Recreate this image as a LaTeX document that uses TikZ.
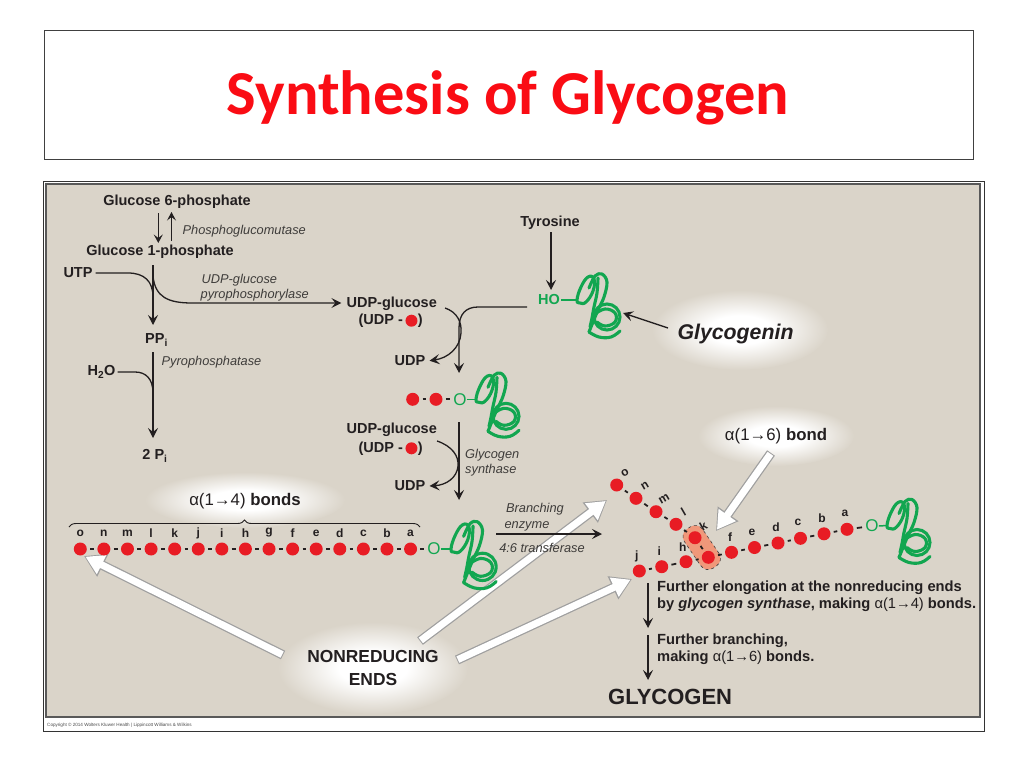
\documentclass[tikz,border=0pt]{standalone}
\usepackage{fontspec}
\setmainfont{Liberation Sans}
\newfontfamily\titlefont{Carlito}
\usetikzlibrary{arrows.meta,decorations.pathreplacing,shapes.geometric}
\definecolor{bgc}{RGB}{218,212,201}
\definecolor{glred}{RGB}{232,28,36}
\definecolor{glgreen}{RGB}{18,166,80}
\definecolor{txt}{RGB}{35,31,32}
\definecolor{itx}{RGB}{62,60,58}
\definecolor{titred}{RGB}{250,12,20}
\definecolor{hl}{RGB}{240,152,122}
\pgfdeclareradialshading{glow}{\pgfpoint{0bp}{0bp}}{color(0bp)=(white); color(9bp)=(white); color(25bp)=(bgc); color(50bp)=(bgc)}
\tikzset{protein/.pic={
  \begin{scope}[draw=glgreen, line width=3.1pt, line cap=round, line join=round]
   \draw plot[smooth cycle, tension=0.75] coordinates {(0,0) (4,-13) (11,-23) (17,-21) (16,-9) (9,2) (3,3)};
   \draw plot[smooth, tension=0.6] coordinates {(12,-12) (18,-24) (25,-26) (30,-18) (27,-3) (21,10) (16,22) (12,32)};
   \draw plot[smooth, tension=0.6] coordinates {(21,-22) (20,-7) (17,7) (15,18) (13,27)};
   \draw (30,17) circle [radius=13pt];
   \draw plot[smooth, tension=0.7] coordinates {(18,14) (28,9) (38,13) (38,22) (28,26) (20,22)};
   \draw plot[smooth, tension=0.7] coordinates {(12,32) (22,37) (34,37) (43,31)};
  \end{scope}}}
\begin{document}
\begin{tikzpicture}[x=1pt,y=-1pt,
  lbl/.style={font=\bfseries\fontsize{14.5}{16}\selectfont, text=txt, inner sep=0pt},
  blbl/.style={font=\bfseries\fontsize{14.7}{16}\selectfont, text=txt, inner sep=0pt, anchor=west},
  ilbl/.style={font=\itshape\fontsize{12.8}{14}\selectfont, text=itx, inner sep=0pt, anchor=west},
  glbl/.style={font=\bfseries\fontsize{14.5}{16}\selectfont, text=glgreen, inner sep=0pt},
  gO/.style={font=\fontsize{17}{18}\selectfont, text=glgreen, inner sep=0pt},
  chl/.style={font=\bfseries\fontsize{12}{13}\selectfont, text=txt, inner sep=0pt},
  dot/.style={circle, fill=glred, minimum size=13pt, inner sep=0pt},
  sdot/.style={circle, fill=glred, minimum size=12pt, inner sep=0pt},
  bond/.style={draw=txt, line width=1.8pt, shorten <=3.2pt, shorten >=3.2pt},
  gbond/.style={draw=glgreen, line width=1.5pt},
  arr/.style={draw=txt, line width=1.3pt, -{Stealth[length=10pt,width=10pt,inset=4pt]}},
  tarr/.style={draw=txt, line width=1.1pt, -{Stealth[length=8.5pt,width=9pt,inset=3.5pt]}},
  pl/.style={draw=txt, line width=1.3pt},
  waout/.style={line width=9.5pt, draw=gray!75, -{Triangle[length=21pt,width=24pt]}},
  wain/.style={line width=7pt, draw=white, -{Triangle[length=18pt,width=20pt]}, shorten >=1.6pt, shorten <=1pt},
]
\useasboundingbox (0,0) rectangle (1024,768);
\fill[white] (0,0) rectangle (1024,768);
% title
\node[draw=black!75, line width=0.8pt, minimum width=929pt, minimum height=129pt, inner sep=0pt] (tbox) at (508.5,94.5) {};
\node[font=\titlefont\bfseries\fontsize{62.5}{66}\selectfont, text=titred, inner sep=0pt] (title) at (508,98) {Synthesis of Glycogen};
% panel
\node[draw=black!80, line width=0.8pt, minimum width=941pt, minimum height=550pt, inner sep=0pt] (frame) at (513.5,456) {};
\node[fill=bgc, draw=gray!70!black, line width=1.2pt, minimum width=934pt, minimum height=533pt, inner sep=0pt] (panel) at (513,450.5) {};
\node[font=\fontsize{4.6}{5}\selectfont, text=gray!60!black, anchor=west, inner sep=0pt] (copy) at (47,725.5) {Copyright © 2014 Wolters Kluwer Health | Lippincott Williams \& Wilkins};
% glows
\shade[shading=glow] (740,330) ellipse [x radius=88pt, y radius=40pt];
\shade[shading=glow] (245,500) ellipse [x radius=100pt, y radius=28pt];
\shade[shading=glow] (776,436) ellipse [x radius=78pt, y radius=30pt];
\shade[shading=glow] (373,668) ellipse [x radius=95pt, y radius=46pt];
% white arrows
\coordinate (w1s) at (283,655); \coordinate (w1e) at (84,556);
\coordinate (w2s) at (420,641); \coordinate (w2e) at (607,500);
\coordinate (w3s) at (457,660); \coordinate (w3e) at (632,579);
\coordinate (w4s) at (771,453); \coordinate (w4e) at (716,531);
\foreach \s/\e in {w1s/w1e,w2s/w2e,w3s/w3e,w4s/w4e}{
  \draw[waout] (\s) -- (\e);
  \draw[wain] (\s) -- (\e);
}
% ---------- left pathway
\node[lbl] (g6p) at (177,201.5) {Glucose 6-phosphate};
\node[lbl] (g1p) at (160,251.5) {Glucose 1-phosphate};
\coordinate (pa) at (158.3,213); \coordinate (pb) at (158.3,243);
\coordinate (pc) at (171.5,241); \coordinate (pd) at (171.5,212);
\draw[tarr] (pa) -- (pb);
\draw[tarr] (pc) -- (pd);
\node[ilbl] (pgm) at (182.5,231.5) {Phosphoglucomutase};
\node[lbl] (utp) at (78,273) {UTP};
\node[lbl] (ppi) at (156.5,340) {PP\textsubscript{i}};
\coordinate (v1a) at (153,265); \coordinate (v1b) at (153,325);
\draw[arr] (v1a) -- (v1b);
\draw[pl] ([xshift=3pt]utp.east) -- (128,273) .. controls (144,273) and (153,281) .. (153,297);
\node[lbl] (udpg1) at (391.7,303.3) {UDP-glucose};
\node[lbl] (ud1) at (390.7,320.7) {(UDP -\hspace{15pt})};
\node[sdot] (ud1d) at ([xshift=-11.5pt]ud1.east) {};
\coordinate (br1) at (153,276);
\draw[arr] (br1) .. controls (155,297) and (168,303) .. (192,303) -- ([xshift=-5pt]udpg1.west |- 0,303);
\node[ilbl] (upp1) at (201.5,280) {UDP-glucose};
\node[ilbl] (upp2) at (200.5,295) {pyrophosphorylase};
\node[lbl] (h2o) at (101.5,372) {H\textsubscript{2}O};
\coordinate (v2a) at (153,352); \coordinate (v2b) at (153,438);
\draw[arr] (v2a) -- (v2b);
\draw[pl] ([xshift=2pt]h2o.east) -- (135,372) .. controls (146,372) and (153,379) .. (153,393);
\node[ilbl] (ppase) at (161.5,362.5) {Pyrophosphatase};
\node[lbl] (pi2) at (155,456) {2 P\textsubscript{i}};
% ---------- middle
\node[lbl] (tyr) at (550,222.7) {Tyrosine};
\coordinate (ta) at (551,232); \coordinate (tb) at (551,290);
\draw[arr] (ta) -- (tb);
\node[glbl] (ho) at (549,300) {HO};
\coordinate (hP) at (577,300);
\draw[gbond] ([xshift=1pt]ho.east) -- (hP);
\pic at (hP) {protein};
\node[font=\bfseries\itshape\fontsize{21.3}{24}\selectfont, text=txt, inner sep=0pt] (gnin) at (735.5,334) {Glycogenin};
\coordinate (ga) at (668,328); \coordinate (gb) at (623,313);
\draw[arr] (ga) -- (gb);
\coordinate (hl1) at (527,307);
\draw[arr] (hl1) -- (478,307) .. controls (466,307) and (459,314) .. (459,328) -- (459,373);
\node[lbl] (udp1) at (410,360.7) {UDP};
\coordinate (uc1) at (445,308);
\draw[arr] (uc1) .. controls (457,312) and (462,322) .. (461,333) .. controls (460,348) and (448,358) .. ([xshift=4pt]udp1.east);
% row 399
\node[dot] (q1) at (412.7,399.3) {};
\node[dot] (q2) at (436,399.3) {};
\node[gO] (qO) at (460,399.3) {O};
\draw[bond] (q1) -- (q2);
\draw[bond] (q2) -- (qO);
\coordinate (qP) at (476,399.3);
\draw[gbond] (qO.east) -- (qP);
\pic at (qP) {protein};
\node[lbl] (udpg2) at (391.7,429.3) {UDP-glucose};
\node[lbl] (ud2) at (390.7,448.3) {(UDP -\hspace{15pt})};
\node[sdot] (ud2d) at ([xshift=-11.5pt]ud2.east) {};
\coordinate (gsa) at (459,422); \coordinate (gsb) at (459,500);
\draw[arr] (gsa) -- (gsb);
\node[lbl] (udp2) at (410,486) {UDP};
\coordinate (uc2) at (437,441);
\draw[arr] (uc2) .. controls (452,446) and (459,456) .. (458,466) .. controls (457,478) and (446,485) .. ([xshift=4pt]udp2.east);
\node[ilbl] (gs1) at (465,455) {Glycogen};
\node[ilbl] (gs2) at (465,470.5) {synthase};
% ---------- linear chain
\node[font=\bfseries\fontsize{16.8}{18}\selectfont, text=txt, inner sep=0pt] (b14) at (245,501) {{\mdseries α(1→4)} bonds};
\coordinate (bra) at (69,527); \coordinate (brb) at (420,527);
\draw[txt, line width=0.9pt, decorate, decoration={brace, amplitude=7pt}] (bra) -- (brb);
\foreach \L [count=\i] in {o,n,m,l,k,j,i,h,g,f,e,d,c,b,a} {
  \node[dot] (c\i) at ({80.3+23.59*(\i-1)},549) {};
  \node[chl] (cl\i) at ({80.3+23.59*(\i-1)},533) {\L};
}
\foreach \i [evaluate=\i as \j using {int(\i+1)}] in {1,...,14} { \draw[bond] (c\i) -- (c\j); }
\node[gO] (cO) at (434,549) {O};
\draw[bond] (c15) -- (cO);
\coordinate (cP) at (451,549);
\draw[gbond] (cO.east) -- (cP);
\pic[scale=1.05] at (cP) {protein};
% branching enzyme
\coordinate (bea) at (496,534); \coordinate (beb) at (602,534);
\draw[arr] (bea) -- (beb);
\node[ilbl, anchor=center] (be1) at (535,509) {Branching};
\node[ilbl, anchor=center] (be2) at (527,526) {enzyme};
\node[ilbl, anchor=center] (be3) at (542,548) {4:6 transferase};
% ---------- branched structure
\node[fill=hl, draw=txt!85, dashed, line width=0.6pt, rounded corners=9pt, minimum width=47pt, minimum height=22pt, rotate=-55.8] (hlb) at (701.7,547.5) {};
\foreach \n/\x/\y in {rj/639.3/571, ri/661.7/566.7, rh/686/561.7, rB/708.3/557.3, rf/731.5/552.3, re/754.5/547.5, rd/778/543, rc/800.5/538.3, rb/824/533.8, ra/847/529.3, ro/616.7/485, rn/636/498.3, rm/656/511.7, rl/676/524.3, rk/695/537.7}
  { \node[dot] (\n) at (\x,\y) {}; }
\foreach \a/\b in {rj/ri, ri/rh, rh/rB, rB/rf, rf/re, re/rd, rd/rc, rc/rb, rb/ra, ro/rn, rn/rm, rm/rl, rl/rk, rk/rB}
  { \draw[bond] (\a) -- (\b); }
\foreach \n/\x/\y/\L in {rjl/636.7/556.5/j, ril/659.3/550.7/i, rhl/682.7/547/h, rfl/730/537/f, rel/752/532/e, rdl/776/527/d, rcl/798/522.5/c, rbl/822/518/b, ral/845/513.5/a}
  { \node[chl] (\n) at (\x,\y) {\L}; }
\foreach \n/\x/\y/\L in {rol/625/472.7/o, rnl/645/486/n, rml/664/499.3/m, rll/683.3/511.7/l, rkl/703.3/526/k}
  { \node[chl, rotate=30] (\n) at (\x,\y) {\L}; }
\node[gO] (rO) at (872,526) {O};
\draw[bond] (ra) -- (rO);
\coordinate (rP) at (887,525.5);
\draw[gbond] (rO.east) -- (rP);
\pic at (rP) {protein};
\node[font=\bfseries\fontsize{16.8}{18}\selectfont, text=txt, inner sep=0pt] (b16) at (776,436) {{\mdseries α(1→6)} bond};
% ---------- further steps
\coordinate (fa) at (648,583); \coordinate (fb) at (648,628);
\coordinate (fc) at (648,635); \coordinate (fd) at (648,680);
\draw[arr] (fa) -- (fb);
\draw[arr] (fc) -- (fd);
\node[blbl] (fe1) at (657,588) {Further elongation at the nonreducing ends};
\node[blbl] (fe2) at (657,605) {by \textit{glycogen synthase}, making {\mdseries α(1→4)} bonds.};
\node[blbl] (fb1) at (657,641) {Further branching,};
\node[blbl] (fb2) at (657,657.5) {making {\mdseries α(1→6)} bonds.};
\node[font=\bfseries\fontsize{22}{24}\selectfont, text=txt, inner sep=0pt, anchor=west] (glyc) at (608,697) {GLYCOGEN};
% nonreducing ends
\node[font=\bfseries\fontsize{17.4}{20}\selectfont, text=txt, inner sep=0pt, align=center] (nre) at (373,668) {NONREDUCING\\[3pt]ENDS};
\end{tikzpicture}
\end{document}
